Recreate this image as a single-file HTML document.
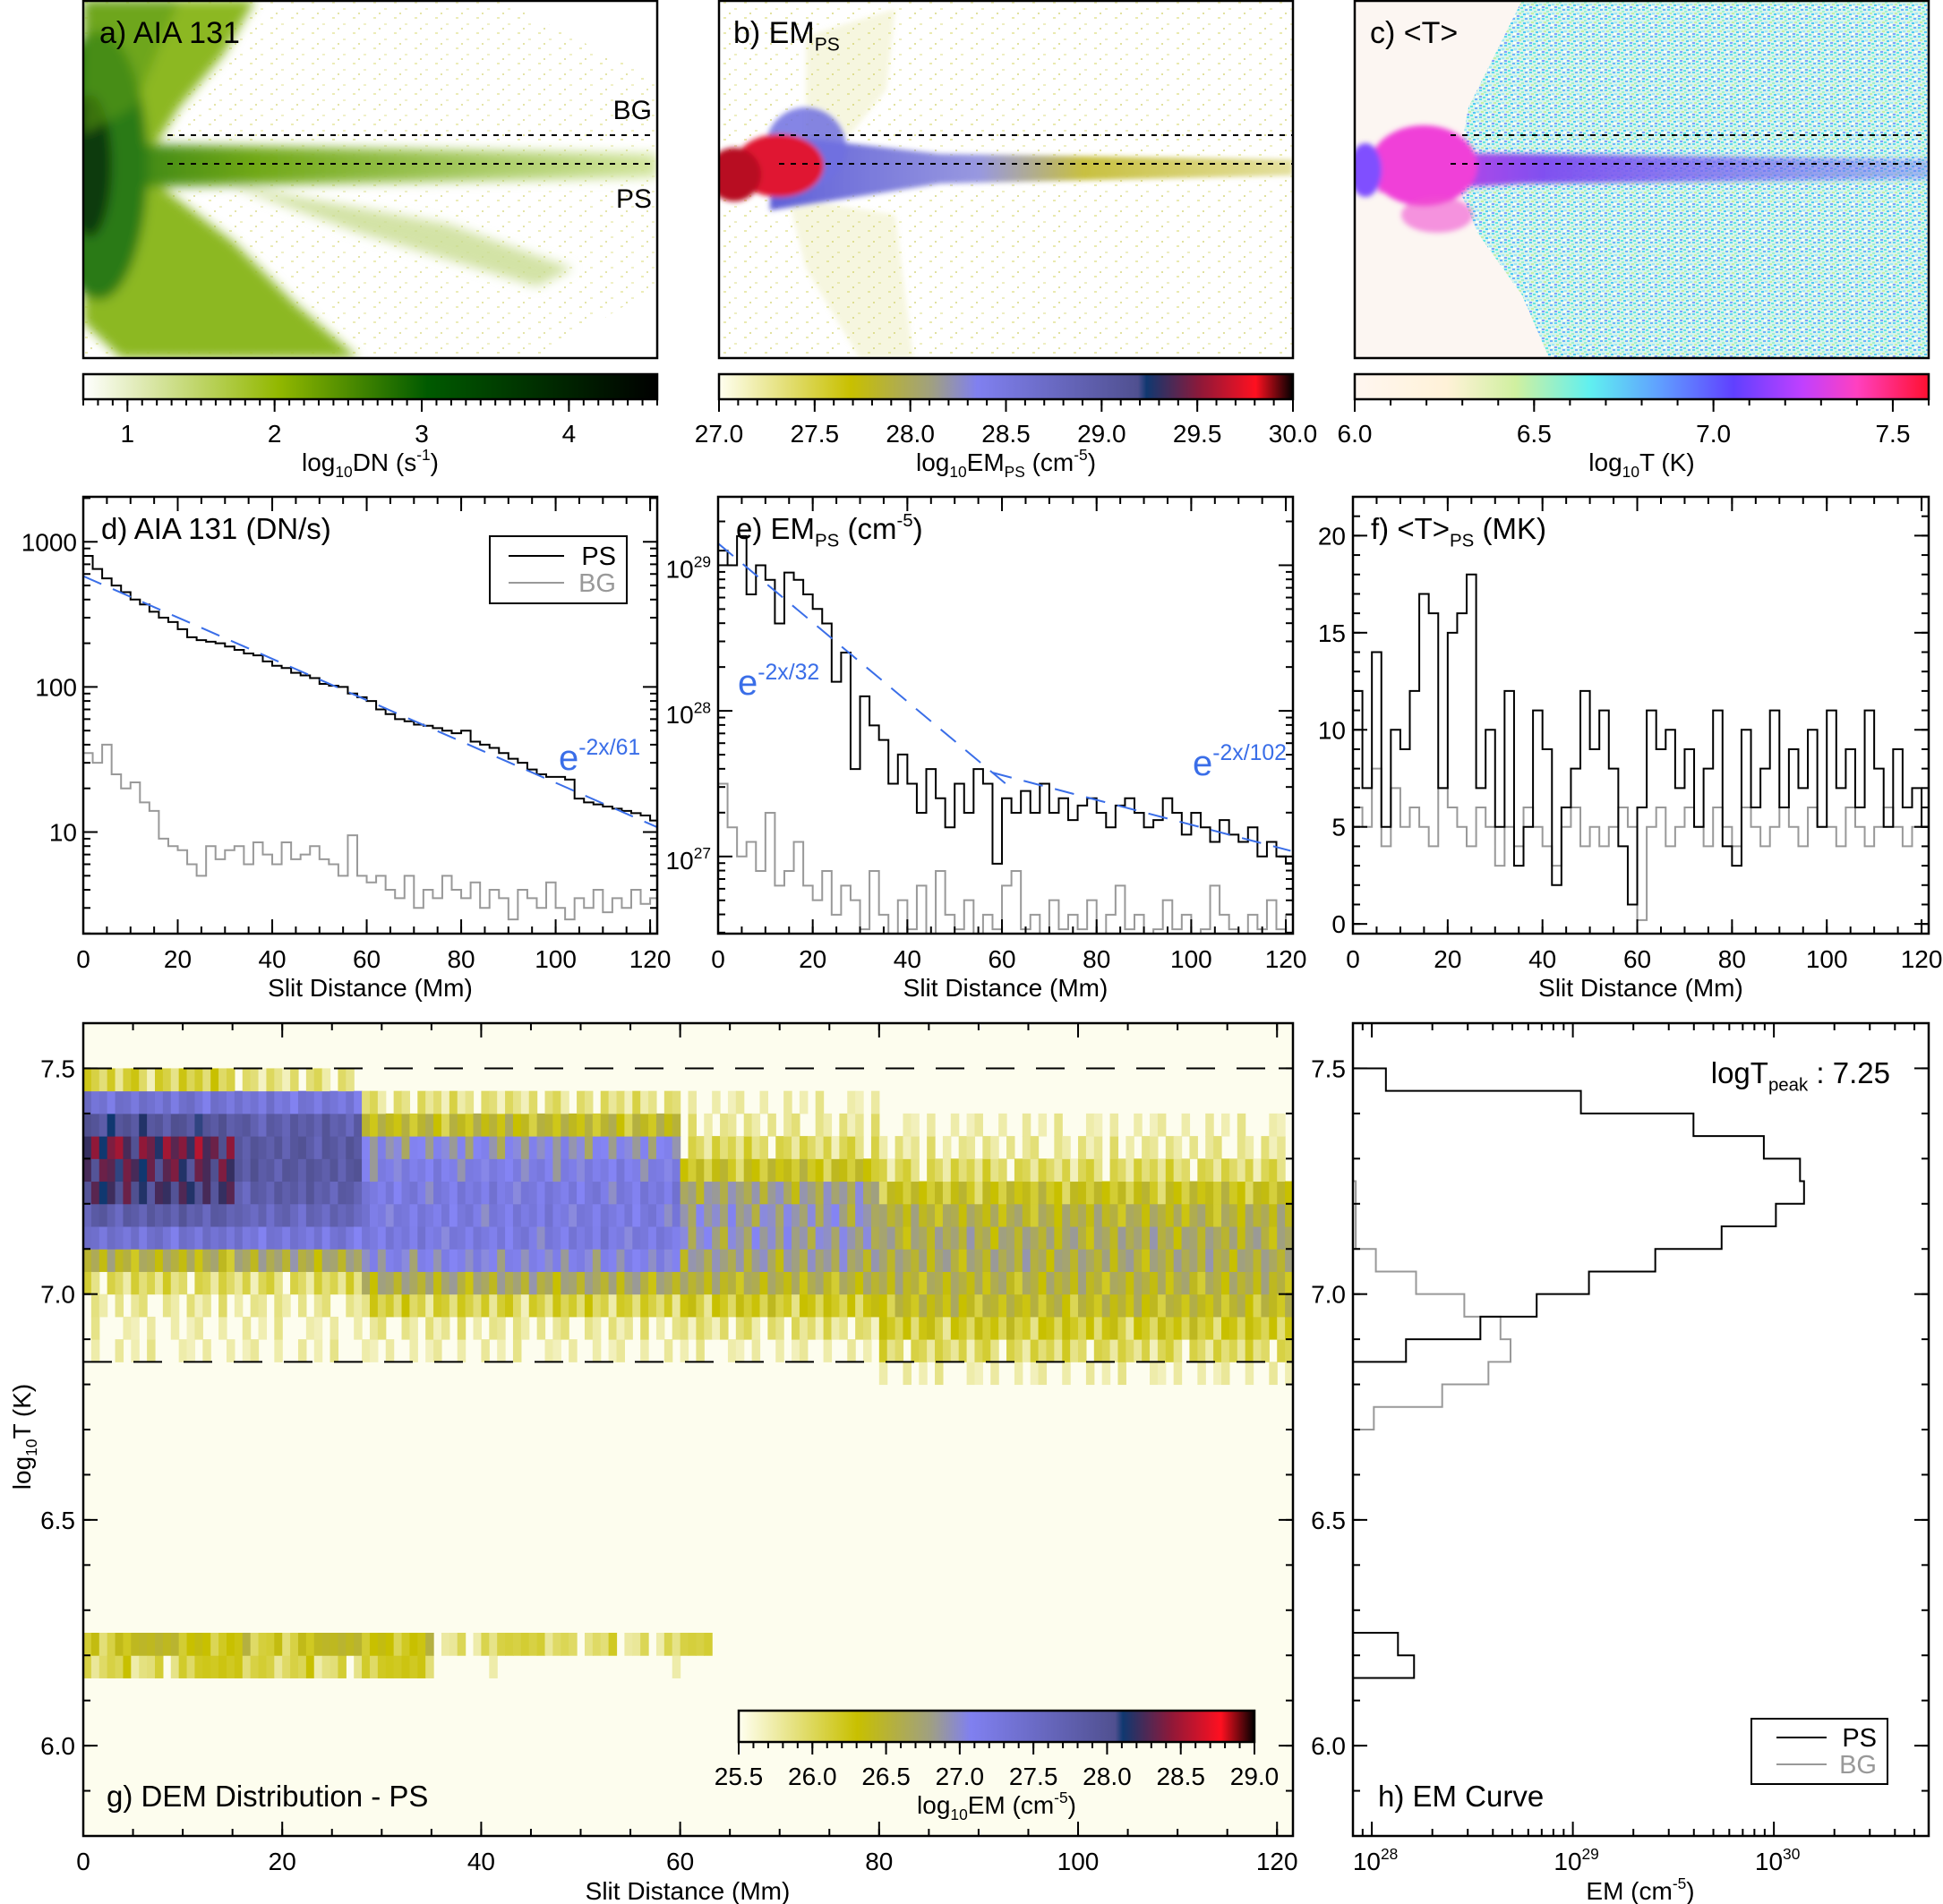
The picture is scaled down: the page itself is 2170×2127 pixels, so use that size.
<!DOCTYPE html>
<html><head><meta charset="utf-8">
<style>
html,body{margin:0;padding:0;background:#fff;}
svg{display:block;font-family:"Liberation Sans",sans-serif;}
</style></head>
<body>
<svg id="fig" width="2170" height="2127" viewBox="0 0 2170 2127" xmlns="http://www.w3.org/2000/svg">
<defs>
<linearGradient id="gA" x1="0" x2="1" y1="0" y2="0"><stop offset="0" stop-color="#ffffff"/><stop offset="0.34" stop-color="#92b800"/><stop offset="0.6" stop-color="#005a00"/><stop offset="1" stop-color="#000"/></linearGradient>
<linearGradient id="gB" x1="0" x2="1"><stop offset="0" stop-color="#fffff0"/><stop offset="0.23" stop-color="#c8c000"/><stop offset="0.37" stop-color="#a0a080"/><stop offset="0.45" stop-color="#8080f0"/><stop offset="0.73" stop-color="#505090"/><stop offset="0.745" stop-color="#103870"/><stop offset="0.84" stop-color="#901838"/><stop offset="0.935" stop-color="#ff1020"/><stop offset="1" stop-color="#000"/></linearGradient>
<linearGradient id="gC" x1="0" x2="1"><stop offset="0" stop-color="#fff6f0"/><stop offset="0.16" stop-color="#fff2d8"/><stop offset="0.28" stop-color="#d0f0a0"/><stop offset="0.41" stop-color="#60f0f0"/><stop offset="0.53" stop-color="#60a0ff"/><stop offset="0.66" stop-color="#6040ff"/><stop offset="0.78" stop-color="#c040ff"/><stop offset="0.875" stop-color="#ff40c0"/><stop offset="1" stop-color="#ff1030"/></linearGradient>
<linearGradient id="gBand" x1="0" x2="1"><stop offset="0" stop-color="#2a7a10"/><stop offset="0.3" stop-color="#70a818"/><stop offset="1" stop-color="#d4e6a0"/></linearGradient>
<linearGradient id="gCband" x1="0" x2="1"><stop offset="0" stop-color="#e040e0"/><stop offset="0.3" stop-color="#8050f0"/><stop offset="1" stop-color="#7080f0" stop-opacity="0.5"/></linearGradient>
<linearGradient id="gBband" x1="0" x2="1"><stop offset="0" stop-color="#6060d8"/><stop offset="0.4" stop-color="#9898e0"/><stop offset="0.6" stop-color="#c8c040"/><stop offset="1" stop-color="#e4e0a0"/></linearGradient>
<pattern id="spk" width="14" height="10" patternUnits="userSpaceOnUse">
<rect width="14" height="10" fill="#d8f4ec"/>
<rect x="0" y="0" width="3" height="2" fill="#60d8f0"/><rect x="5" y="2" width="3" height="2" fill="#9ef0d0"/><rect x="9" y="0" width="3" height="2" fill="#70b0ff"/>
<rect x="2" y="4" width="3" height="2" fill="#c8f0a8"/><rect x="7" y="5" width="3" height="2" fill="#50c8f8"/><rect x="11" y="4" width="3" height="2" fill="#a0e8f8"/>
<rect x="0" y="7" width="3" height="2" fill="#80a0ff"/><rect x="4" y="8" width="3" height="2" fill="#60e8e0"/><rect x="10" y="7" width="3" height="2" fill="#fff"/>
</pattern>
<pattern id="yspk" width="23" height="17" patternUnits="userSpaceOnUse">
<rect x="3" y="2" width="3" height="2" fill="#d8d870"/><rect x="15" y="9" width="3" height="2" fill="#e0e090"/><rect x="9" y="14" width="2" height="2" fill="#c8c850"/>
</pattern>
<filter id="blur6"><feGaussianBlur stdDeviation="6"/></filter>
<filter id="blur3"><feGaussianBlur stdDeviation="3"/></filter>
</defs>
</svg>
<script>
// ---------------- data ----------------
const distStep = 2;
const aiaPS = [800,650,560,500,450,400,370,330,300,280,250,220,210,205,200,190,180,170,165,150,140,135,125,120,115,105,102,100,90,85,80,70,65,60,58,55,54,52,50,48,50,42,40,38,35,32,30,27,25,24,24,23,17,16,15.5,15,14.5,14,13.5,13,12];
const aiaBG = [35,30,40,25,20,22,16,14,9,8,7.5,6,5,8,6.5,7.5,8,6,8.5,7,6,8.5,6.5,7,8,6.5,6,5,9.5,5,4.5,5,4,3.5,5,3,4,3.5,5,4,3.5,4.5,3,4,3.5,2.5,4,3.5,3,4.5,3,2.5,3.5,3,4,2.8,3.5,3,4,3.2,3.5];
const emPS = [29.1,29.0,29.2,28.8,29.0,28.9,28.6,28.95,28.9,28.8,28.7,28.6,28.2,28.4,27.6,28.1,27.9,27.8,27.5,27.7,27.5,27.3,27.6,27.4,27.2,27.5,27.3,27.6,27.5,26.95,27.4,27.3,27.45,27.3,27.5,27.3,27.4,27.25,27.35,27.4,27.3,27.2,27.35,27.4,27.3,27.2,27.25,27.4,27.3,27.15,27.3,27.2,27.1,27.25,27.15,27.1,27.2,27.0,27.1,27.0,26.95];
const emBG = [27.5,27.2,27.0,27.1,26.9,27.3,26.8,26.9,27.1,26.8,26.7,26.9,26.6,26.8,26.7,26.5,26.9,26.6,26.4,26.7,26.5,26.8,26.4,26.9,26.6,26.5,26.7,26.4,26.6,26.5,26.8,26.9,26.5,26.6,26.4,26.7,26.5,26.6,26.5,26.7,26.4,26.6,26.8,26.5,26.6,26.4,26.5,26.7,26.5,26.6,26.4,26.5,26.8,26.6,26.5,26.4,26.6,26.5,26.7,26.5,26.6];
const tPS = [12,7,14,5,10,9,12,17,16,7,15,16,18,7,10,5,12,3,5,11,9,2,6,8,12,9,11,8,4,1,6,11,9,10,7,9,5,8,11,4,3,10,6,8,11,6,9,7,10,5,11,7,9,6,11,8,5,9,6,7,5];
const tBG = [6,5,8,4,7,5,6,5,4,7,6,5,4,6,5,3,5,4,6,5,4,3,5,6,4,5,4,5,6,5,0.2,5,6,4,5,6,5,4,6,5,4,6,5,4,5,6,5,4,6,5,5,4,6,5,4,5,6,5,4,5,5];
const fitAia = {a0:580, L:61};
const fitEm1 = {a0:29.15, L:32, x0:0, x1:62};
const fitEm2 = {L:102, x0:58, x1:121};
// EM curve (h)
const curvePST = [7.50,7.45,7.40,7.35,7.30,7.25,7.20,7.15,7.10,7.05,7.00,6.95,6.90,6.85];
const curvePSV = [28.07,29.04,29.6,29.95,30.13,30.15,30.01,29.74,29.41,29.08,28.82,28.54,28.17];
const curvePS2T = [6.25,6.20,6.15];
const curvePS2V = [28.13,28.21];
const curveBGT = [7.25,7.10,7.05,7.00,6.95,6.90,6.85,6.80,6.75,6.70];
const curveBGV = [27.92,28.02,28.22,28.46,28.64,28.69,28.58,28.35,28.01];
// DEM heatmap (g)
const demBinsT = [6.80,6.85,6.90,6.95,7.00,7.05,7.10,7.15,7.20,7.25,7.30,7.35,7.40,7.45];
const demSegEdges = [0,15,28,60,80,121.6];
const demSeg0 = [25.5,25.6,25.6,25.7,25.9,26.4,27.3,27.8,28.2,28.3,28.4,28.0,27.3,26.0];
const demSeg1 = [25.5,25.6,25.6,25.7,25.9,26.5,27.2,27.6,27.8,27.9,27.9,27.8,27.2,25.8];
const demSeg2 = [25.5,25.6,25.7,26.0,26.5,26.9,27.1,27.1,27.1,27.0,26.8,26.3,25.8,25.5];
const demSeg3 = [25.5,25.6,25.8,26.1,26.4,26.6,26.7,26.7,26.6,26.2,25.9,25.7,25.6,25.5];
const demSeg4 = [25.6,25.9,26.1,26.3,26.4,26.5,26.5,26.4,26.2,25.9,25.7,25.6,25.5,25.5];
const demLowT = [6.15,6.20];
const demLowEdges = [0,35,63];
const demLowA = [26.0,26.2];
const demLowB = [25.5,25.9];
const demMod = [0,-0.3,0.2,-0.5,0.1,0.3,-0.2,-0.7,0.2,0,-0.4,0.3,-0.1,0.15,-0.3,0.4,-0.2,0,-0.6,0.2,0.1,-0.35,0.25];
const emStops = [[25.5,'#fdfdee'],[26.2,'#c8c000'],[26.6,'#a0a080'],[26.85,'#8484f4'],[28.1,'#505090'],[28.15,'#103870'],[28.5,'#901838'],[28.8,'#ff1020'],[29.0,'#000000']];
const distTicks = [0,20,40,60,80,100,120];

// -------------- helpers --------------
const NS='http://www.w3.org/2000/svg';
const svg=document.getElementById('fig');
function mk(tag,attrs,parent){const e=document.createElementNS(NS,tag);for(const k in attrs)e.setAttribute(k,attrs[k]);(parent||svg).appendChild(e);return e;}
function lin(d0,d1,p0,p1){return v=>p0+(v-d0)*(p1-p0)/(d1-d0);}
function rich(x,y,parts,size,anchor,fill){
  const t=mk('text',{x:x,y:y,'font-size':size,'text-anchor':anchor||'start',fill:fill||'#000'});
  let shift=0;
  for(const p of parts){
    const s=mk('tspan',{},t);
    let target = p[1]==='sup'? -size*0.42 : p[1]==='sub'? size*0.25 : 0;
    s.setAttribute('dy', target-shift); shift=target;
    if(p[1]) s.setAttribute('font-size', size*0.62);
    s.textContent=p[0];
  }
  return t;
}
function hex2rgb(h){return [parseInt(h.substr(1,2),16),parseInt(h.substr(3,2),16),parseInt(h.substr(5,2),16)];}
function cmap(v){
  if(v<=emStops[0][0])return emStops[0][1];
  for(let i=1;i<emStops.length;i++){if(v<=emStops[i][0]){const a=hex2rgb(emStops[i-1][1]),b=hex2rgb(emStops[i][1]);const f=(v-emStops[i-1][0])/(emStops[i][0]-emStops[i-1][0]);return 'rgb('+a.map((c,j)=>Math.round(c+(b[j]-c)*f)).join(',')+')';}}
  return emStops[emStops.length-1][1];
}
function frame(P,name){const r=mk('rect',{x:P.x0,y:P.y0,width:P.x1-P.x0,height:P.y1-P.y0,fill:'none',stroke:'#000','stroke-width':2.5});

}
function clip(P,id){const c=mk('clipPath',{id:id});mk('rect',{x:P.x0,y:P.y0,width:P.x1-P.x0,height:P.y1-P.y0},c);}
function ticks(P,sx,sy,xMaj,xMin,yMaj,yMin,name){
  const g=mk('g',{stroke:'#000','stroke-width':2});
  
  
  const L=16,l=8;
  (xMaj||[]).forEach(v=>{const x=sx(v);mk('line',{x1:x,x2:x,y1:P.y1,y2:P.y1-L},g);mk('line',{x1:x,x2:x,y1:P.y0,y2:P.y0+L},g);});
  (xMin||[]).forEach(v=>{const x=sx(v);mk('line',{x1:x,x2:x,y1:P.y1,y2:P.y1-l},g);mk('line',{x1:x,x2:x,y1:P.y0,y2:P.y0+l},g);});
  (yMaj||[]).forEach(v=>{const y=sy(v);mk('line',{y1:y,y2:y,x1:P.x0,x2:P.x0+L},g);mk('line',{y1:y,y2:y,x1:P.x1,x2:P.x1-L},g);});
  (yMin||[]).forEach(v=>{const y=sy(v);mk('line',{y1:y,y2:y,x1:P.x0,x2:P.x0+l},g);mk('line',{y1:y,y2:y,x1:P.x1,x2:P.x1-l},g);});
}
function range(a,b,s){const r=[];for(let v=a;v<=b+1e-9;v+=s)r.push(Math.round(v*1000)/1000);return r;}
function logMinor(d0,d1){const r=[];for(let d=d0;d<d1;d++)for(let k=2;k<10;k++)r.push(d+Math.log10(k));return r;}
function stepPath(vals,sx,sy,tf){let d='';vals.forEach((v,i)=>{const xa=sx(i*distStep),xb=sx(Math.min((i+1)*distStep,121.6));const y=sy(tf(v));d+=(i===0?'M'+xa+','+y:' V'+y)+' H'+xb;});return d;}
function xLabels(P,sx,name){const g=mk('g',{});


distTicks.forEach(v=>{const t=mk('text',{x:sx(v),y:P.y1+38,'font-size':28,'text-anchor':'middle'},g);t.textContent=v;});}

// -------------- top row images --------------
const A={x0:93,x1:734,y0:1,y1:400}, B={x0:803,x1:1444,y0:1,y1:400}, C={x0:1513,x1:2154,y0:1,y1:400};
clip(A,'cA');clip(B,'cB');clip(C,'cC');
let gA=mk('g',{'clip-path':'url(#cA)'});


mk('polygon',{points:'93,0 560,0 734,90 734,320 600,400 93,400',fill:'url(#yspk)',opacity:0.5},gA);
let gAb=mk('g',{filter:'url(#blur6)'},gA);
mk('polygon',{points:'93,0 285,0 250,60 200,120 175,160 93,175',fill:'#8cb820'},gAb);
mk('polygon',{points:'93,195 175,205 260,270 330,340 400,400 135,400 93,360',fill:'#8cb820'},gAb);
mk('polygon',{points:'250,205 500,250 640,300 600,320 400,260',fill:'#c8dc90',opacity:0.8},gAb);
mk('polygon',{points:'93,160 734,172 734,198 93,210',fill:'url(#gBand)'},gAb);
mk('ellipse',{cx:110,cy:185,rx:55,ry:150,fill:'#2a7a12'},gAb);
mk('ellipse',{cx:100,cy:185,rx:25,ry:80,fill:'#0a3a08'},gAb);
mk('polygon',{points:'93,0 200,0 150,120 93,150',fill:'#5a9a18',opacity:0.6},gAb);
let gB=mk('g',{'clip-path':'url(#cB)'});


mk('rect',{x:803,y:0,width:641,height:400,fill:'url(#yspk)',opacity:0.55},gB);
let gBb=mk('g',{filter:'url(#blur3)'},gB);
mk('polygon',{points:'900,40 1000,10 990,100 950,150 900,170',fill:'#d0d060',opacity:0.2},gBb);
mk('polygon',{points:'880,220 1000,240 1020,400 960,400 900,300',fill:'#d0d060',opacity:0.2},gBb);
mk('polygon',{points:'860,150 1050,172 1444,178 1444,196 1050,205 860,235',fill:'url(#gBband)'},gBb);
mk('ellipse',{cx:900,cy:165,rx:45,ry:45,fill:'#7070e0',opacity:0.85},gBb);
mk('ellipse',{cx:870,cy:185,rx:50,ry:35,fill:'#e01830'},gBb);
mk('ellipse',{cx:820,cy:195,rx:30,ry:30,fill:'#b80c20'},gBb);
let gC=mk('g',{'clip-path':'url(#cC)'});


mk('rect',{x:1513,y:0,width:641,height:400,fill:'#fcf6f2'},gC);
mk('polygon',{points:'1700,0 2154,0 2154,400 1730,400 1700,330 1650,260 1625,200 1640,120 1670,60',fill:'url(#spk)'},gC);
let gCb=mk('g',{filter:'url(#blur3)'},gC);
mk('polygon',{points:'1540,170 1700,172 2154,178 2154,200 1700,205 1540,215',fill:'url(#gCband)'},gCb);
mk('ellipse',{cx:1590,cy:185,rx:60,ry:45,fill:'#f040d8'},gCb);
mk('ellipse',{cx:1525,cy:190,rx:18,ry:30,fill:'#8050ff'},gCb);
mk('ellipse',{cx:1605,cy:240,rx:40,ry:20,fill:'#f050d0',opacity:0.6},gCb);
[[A,187],[B,870],[C,1620]].forEach(([P,xs])=>{[151,183].forEach(y=>{const l=mk('line',{x1:xs,x2:P.x1,y1:y,y2:y,stroke:'#000','stroke-width':2,'stroke-dasharray':'6,7'});

});});
frame(A,'panel-a-frame');frame(B,'panel-b-frame');frame(C,'panel-c-frame');
let t;
t=rich(111,48,[['a) AIA 131','']],34);


t=rich(819,48,[['b) EM',''],['PS','sub']],34);


t=rich(1530,48,[['c) <T>','']],34);


t=rich(728,133,[['BG','']],30,'end');


t=rich(728,232,[['PS','']],30,'end');



function cbar(x0,x1,y0,y1,grad,d0,d1,maj,mino,labels,title,name){
  const r=mk('rect',{x:x0,y:y0,width:x1-x0,height:y1-y0,fill:'url(#'+grad+')',stroke:'#000','stroke-width':2.5});
  
  
  const s=lin(d0,d1,x0,x1);
  const g=mk('g',{stroke:'#000','stroke-width':2});
  
  
  maj.forEach(v=>mk('line',{x1:s(v),x2:s(v),y1:y1,y2:y1+14},g));
  mino.forEach(v=>mk('line',{x1:s(v),x2:s(v),y1:y1,y2:y1+7},g));
  maj.forEach((v,i)=>{const tt=mk('text',{x:s(v),y:y1+48,'font-size':28,'text-anchor':'middle'});
  
  
  tt.textContent=labels[i];});
  const tl=rich((x0+x1)/2,y1+80,title,28,'middle');
  
  
}
cbar(93,734,418,446,'gA',0.7,4.6,[1,2,3,4],range(0.7,4.6,0.1),['1','2','3','4'],[['log',''],['10','sub'],['DN (s',''],['-1','sup'],[')','']],'colorbar-a');
cbar(803,1444,418,446,'gB',27,30,range(27,30,0.5),range(27,30,0.1),['27.0','27.5','28.0','28.5','29.0','29.5','30.0'],[['log',''],['10','sub'],['EM',''],['PS','sub'],[' (cm',''],['-5','sup'],[')','']],'colorbar-b');
cbar(1513,2154,418,446,'gC',6.0,7.6,[6.0,6.5,7.0,7.5],range(6.0,7.6,0.1),['6.0','6.5','7.0','7.5'],[['log',''],['10','sub'],['T (K)','']],'colorbar-c');

// -------------- row 2 --------------
const D={x0:93,x1:734,y0:555,y1:1043}, E={x0:802,x1:1444,y0:555,y1:1043}, F={x0:1511,x1:2154,y0:555,y1:1043};
clip(D,'cD');clip(E,'cE');clip(F,'cF');
const sxD=lin(0,121.5,D.x0,D.x1), syD=lin(0.3,3.31,D.y1,D.y0);
const sxE=lin(0,121.5,E.x0,E.x1), syE=lin(26.47,29.47,E.y1,E.y0);
const sxF=lin(0,121.5,F.x0,F.x1), syF=lin(-0.5,22,F.y1,F.y0);
let p;
p=mk('path',{d:stepPath(aiaBG,sxD,syD,Math.log10),fill:'none',stroke:'#999','stroke-width':2,'clip-path':'url(#cD)'});


p=mk('path',{d:stepPath(aiaPS,sxD,syD,Math.log10),fill:'none',stroke:'#000','stroke-width':2,'clip-path':'url(#cD)'});


p=mk('line',{x1:sxD(0),y1:syD(Math.log10(fitAia.a0)),x2:sxD(121.5),y2:syD(Math.log10(fitAia.a0*Math.exp(-2*121.5/fitAia.L))),stroke:'#3a6ee8','stroke-width':2,'stroke-dasharray':'22,14'});


p=mk('path',{d:stepPath(emBG,sxE,syE,v=>v),fill:'none',stroke:'#999','stroke-width':2,'clip-path':'url(#cE)'});


p=mk('path',{d:stepPath(emPS,sxE,syE,v=>v),fill:'none',stroke:'#000','stroke-width':2,'clip-path':'url(#cE)'});


const em1End=fitEm1.a0-2*(fitEm1.x1-fitEm1.x0)/fitEm1.L/Math.LN10;
p=mk('line',{x1:sxE(fitEm1.x0),y1:syE(fitEm1.a0),x2:sxE(fitEm1.x1),y2:syE(em1End),stroke:'#3a6ee8','stroke-width':2,'stroke-dasharray':'22,14'});


const em2Start=fitEm1.a0-2*(fitEm2.x0-fitEm1.x0)/fitEm1.L/Math.LN10;
p=mk('line',{x1:sxE(fitEm2.x0),y1:syE(em2Start),x2:sxE(fitEm2.x1),y2:syE(em2Start-2*(fitEm2.x1-fitEm2.x0)/fitEm2.L/Math.LN10),stroke:'#3a6ee8','stroke-width':2,'stroke-dasharray':'22,14'});


p=mk('path',{d:stepPath(tBG,sxF,syF,v=>v),fill:'none',stroke:'#999','stroke-width':2,'clip-path':'url(#cF)'});


p=mk('path',{d:stepPath(tPS,sxF,syF,v=>v),fill:'none',stroke:'#000','stroke-width':2,'clip-path':'url(#cF)'});


const xMin5=range(0,120,5);
ticks(D,sxD,syD,distTicks,xMin5,[1,2,3],logMinor(0,4).filter(v=>v>0.3&&v<3.31),'panel-d-ticks');
ticks(E,sxE,syE,distTicks,xMin5,[27,28,29],logMinor(26,30).filter(v=>v>26.47&&v<29.47),'panel-e-ticks');
ticks(F,sxF,syF,distTicks,xMin5,[0,5,10,15,20],range(0,22,1),'panel-f-ticks');
frame(D,'panel-d-frame');frame(E,'panel-e-frame');frame(F,'panel-f-frame');
xLabels(D,sxD,'panel-d-x-labels');xLabels(E,sxE,'panel-e-x-labels');xLabels(F,sxF,'panel-f-x-labels');
[[D,'panel-d'],[E,'panel-e'],[F,'panel-f']].forEach(([P,n])=>{const tt=rich((P.x0+P.x1)/2,P.y1+70,[['Slit Distance (Mm)','']],28,'middle');

});
[[1,'10'],[2,'100'],[3,'1000']].forEach(([v,l])=>{const tt=rich(86,syD(v)+10,[[l,'']],28,'end');

});
[27,28,29].forEach(v=>{const tt=rich(794,syE(v)+14,[['10',''],[String(v),'sup']],28,'end');

});
[0,5,10,15,20].forEach(v=>{const tt=rich(1503,syF(v)+10,[[String(v),'']],28,'end');

});
t=rich(113,602,[['d) AIA 131 (DN/s)','']],33);


t=rich(822,602,[['e) EM',''],['PS','sub'],[' (cm',''],['-5','sup'],[')','']],33);


t=rich(1531,602,[['f) <T>',''],['PS','sub'],[' (MK)','']],33);


t=rich(624,860,[['e',''],['-2x/61','sup']],40,'start','#3a6ee8');


t=rich(824,776,[['e',''],['-2x/32','sup']],40,'start','#3a6ee8');


t=rich(1332,866,[['e',''],['-2x/102','sup']],40,'start','#3a6ee8');


let lg=mk('g',{});


mk('rect',{x:547,y:599,width:153,height:75,fill:'#fff',stroke:'#000','stroke-width':2},lg);
mk('line',{x1:568,x2:630,y1:621,y2:621,stroke:'#000','stroke-width':2},lg);
mk('line',{x1:568,x2:630,y1:651,y2:651,stroke:'#999','stroke-width':2},lg);
let lt=mk('text',{x:688,y:631,'font-size':29,'text-anchor':'end'},lg);lt.textContent='PS';
lt=mk('text',{x:688,y:661,'font-size':29,'text-anchor':'end',fill:'#999'},lg);lt.textContent='BG';

// -------------- row 3 --------------
const G={x0:93,x1:1444,y0:1143,y1:2051}, H={x0:1511,x1:2154,y0:1143,y1:2051};
clip(G,'cG');clip(H,'cH');
const sxG=lin(0,121.6,G.x0,G.x1), syG=lin(5.8,7.6,G.y1,G.y0);
const sxH=lin(27.906,30.77,H.x0,H.x1), syH=lin(5.8,7.6,H.y1,H.y0);
let hg=mk('g',{'clip-path':'url(#cG)'});


mk('rect',{x:G.x0,y:G.y0,width:G.x1-G.x0,height:G.y1-G.y0,fill:cmap(25.5)},hg);
const segs=[demSeg0,demSeg1,demSeg2,demSeg3,demSeg4];
const colW=0.8;
for(let c=0;c*colW<121.6;c++){
  const x=c*colW;
  let s=0;while(s<segs.length-1&&x>=demSegEdges[s+1])s++;
  const prof=segs[s];
  demBinsT.forEach((tb,b)=>{
    const base=prof[b]; if(base<=25.55)return;
    const v=base+demMod[(c+b*7)%demMod.length]*0.5;
    if(v<=25.6)return;
    const cell=mk('rect',{x:sxG(x),y:syG(tb+0.05),width:sxG(x+colW)-sxG(x)+0.6,height:syG(tb)-syG(tb+0.05)+0.5,fill:cmap(v)},hg);
    
    
  });
  if(x<demLowEdges[2]){
    const lp=x<demLowEdges[1]?demLowA:demLowB;
    demLowT.forEach((tb,b)=>{
      const v=lp[b]+demMod[(c*3+b)%demMod.length]*0.5;
      if(v<=25.65)return;
      const cell=mk('rect',{x:sxG(x),y:syG(tb+0.05),width:sxG(x+colW)-sxG(x)+0.6,height:syG(tb)-syG(tb+0.05)+0.5,fill:cmap(v)},hg);
      
      
    });
  }
}
[7.5,6.85].forEach(v=>{const l=mk('line',{x1:G.x0,x2:G.x1,y1:syG(v),y2:syG(v),stroke:'#000','stroke-width':2,'stroke-dasharray':'32,24'});

});
function curvePath(T,V){let d='M'+H.x0+','+syH(T[0]);V.forEach((v,i)=>{d+=' H'+sxH(v)+' V'+syH(T[i+1]);});d+=' H'+H.x0;return d;}
p=mk('path',{d:curvePath(curveBGT,curveBGV),fill:'none',stroke:'#999','stroke-width':2,'clip-path':'url(#cH)'});


p=mk('path',{d:curvePath(curvePST,curvePSV),fill:'none',stroke:'#000','stroke-width':2,'clip-path':'url(#cH)'});


p=mk('path',{d:curvePath(curvePS2T,curvePS2V),fill:'none',stroke:'#000','stroke-width':2,'clip-path':'url(#cH)'});


const tMinor=range(5.8,7.6,0.1);
ticks(G,sxG,syG,distTicks,xMin5,[6.0,6.5,7.0,7.5],tMinor,'panel-g-ticks');
ticks(H,sxH,syH,[28,29,30],logMinor(27,31).filter(v=>v>27.906&&v<30.77),[6.0,6.5,7.0,7.5],tMinor,'panel-h-ticks');
frame(G,'panel-g-frame');frame(H,'panel-h-frame');
xLabels(G,sxG,'panel-g-x-labels');
[6.0,6.5,7.0,7.5].forEach(v=>{let tt=rich(84,syG(v)+10,[[v.toFixed(1),'']],28,'end');


tt=rich(1503,syH(v)+10,[[v.toFixed(1),'']],28,'end');

});
[28,29,30].forEach(v=>{const tt=rich(sxH(v)+4,G.y1+38,[['10',''],[String(v),'sup']],28,'middle');

});
t=rich(768,2122,[['Slit Distance (Mm)','']],28,'middle');


t=rich(1832,2122,[['EM (cm',''],['-5','sup'],[')','']],28,'middle');


t=rich(0,0,[['log',''],['10','sub'],['T (K)','']],28,'middle');
t.setAttribute('transform','translate(34,1605) rotate(-90)');


t=rich(119,2018,[['g) DEM Distribution - PS','']],33);


t=rich(1539,2018,[['h) EM Curve','']],33);


t=rich(2111,1210,[['logT',''],['peak','sub'],['  :  7.25','']],33,'end');


cbar(825,1401,1911,1946,'gB',25.5,29.0,range(25.5,29,0.5),range(25.5,29,0.1),['25.5','26.0','26.5','27.0','27.5','28.0','28.5','29.0'],[['log',''],['10','sub'],['EM (cm',''],['-5','sup'],[')','']],'colorbar-g');
lg=mk('g',{});


mk('rect',{x:1956,y:1920,width:152,height:73,fill:'#fff',stroke:'#000','stroke-width':2},lg);
mk('line',{x1:1984,x2:2040,y1:1941,y2:1941,stroke:'#000','stroke-width':2},lg);
mk('line',{x1:1984,x2:2040,y1:1971,y2:1971,stroke:'#999','stroke-width':2},lg);
lt=mk('text',{x:2096,y:1951,'font-size':29,'text-anchor':'end'},lg);lt.textContent='PS';
lt=mk('text',{x:2096,y:1981,'font-size':29,'text-anchor':'end',fill:'#999'},lg);lt.textContent='BG';
</script>
</body></html>
